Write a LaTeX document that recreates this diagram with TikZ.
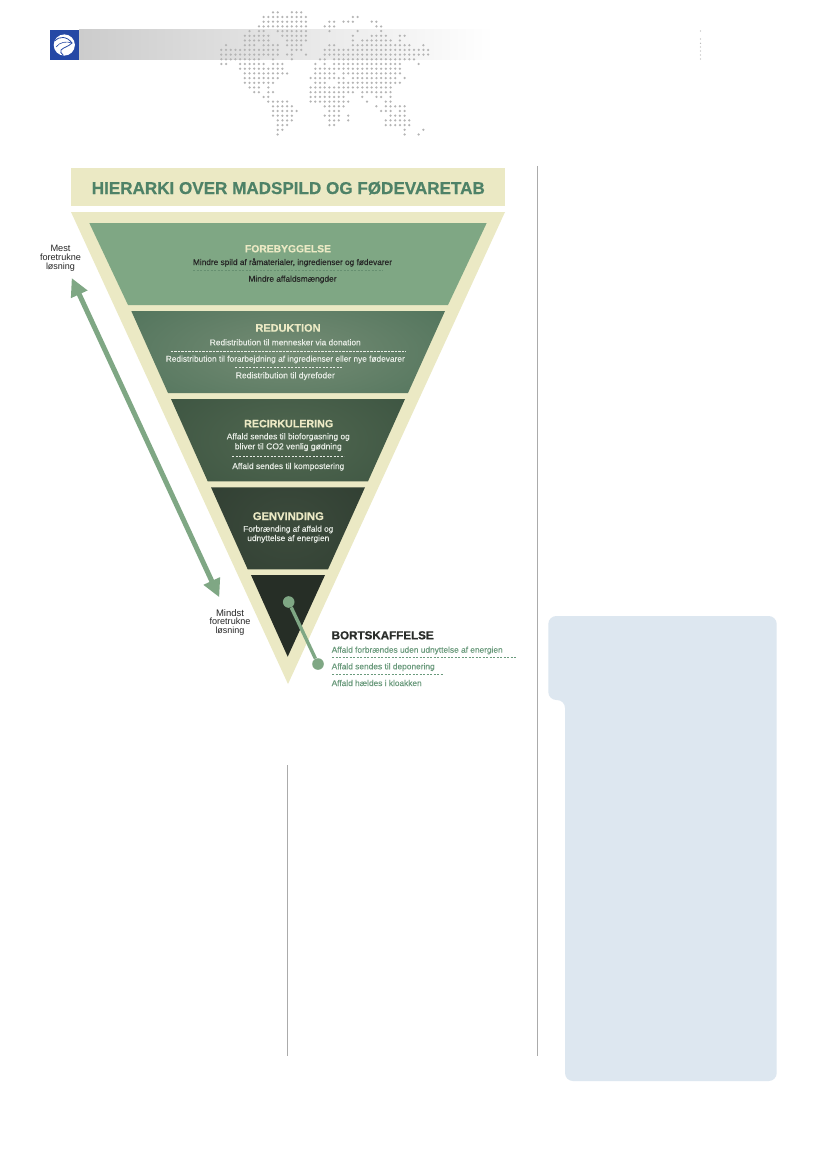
\documentclass[tikz,border=0pt]{standalone}
\usepackage{fontspec}
\usepackage{graphicx}
\setmainfont{Liberation Sans}
\newfontfamily\bodyfont[FakeBold=0.3]{Liberation Sans}
\newfontfamily\headfont[FakeBold=0.6]{Liberation Sans Bold}
\usetikzlibrary{arrows.meta}
\definecolor{cream}{HTML}{EBE9C4}
\definecolor{sage}{HTML}{7FA784}
\definecolor{titlegreen}{HTML}{4E8267}
\definecolor{bortgreen}{HTML}{6A9A7C}
\definecolor{darkhead}{HTML}{2A2D2A}
\definecolor{lighttext}{HTML}{E8EDE6}
\definecolor{mapgrey}{HTML}{B4B4B4}
\definecolor{ruleg}{HTML}{ABABAB}
\definecolor{logoblue}{HTML}{2548A5}
\definecolor{panel}{HTML}{DDE7F0}
\definecolor{dashone}{HTML}{668F70}
\newcommand{\fitw}[2]{\resizebox{#1pt}{!}{#2}}
\tikzset{
  head/.style={inner sep=0pt,anchor=base,font=\fontsize{11}{12}\selectfont\headfont,text=cream},
  body/.style={inner sep=0pt,anchor=base,font=\fontsize{8}{9}\selectfont\bodyfont,text=lighttext},
  bodydark/.style={body,text=black!85},
  bort/.style={inner sep=0pt,anchor=base west,font=\fontsize{8}{9}\selectfont\bodyfont,text=bortgreen},
  side/.style={inner sep=0pt,anchor=base,font=\fontsize{8.6}{9}\selectfont,text=black!85},
  dashline/.style={line width=0.6pt,dash pattern=on 2.3pt off 1.2pt},
  knob/.style={circle,fill=sage,inner sep=0pt,minimum size=11.6pt},
}
\begin{document}
\begin{tikzpicture}[x=1pt,y=-1pt]
\useasboundingbox (0,0) rectangle (827,1169);
\fill[white] (0,0) rectangle (827,1169);
% header
\shade[left color=black!20,right color=white,shading angle=90,shading=axis] (79,30) rectangle (494,60);
\fill[logoblue] (50,30.3) rectangle (79,59.6);
\fill[white] (64.3,45) circle (10.6pt);
\draw[logoblue,line width=0.8pt] (54.5,41) .. controls (59,36) and (67,36) .. (72,43) .. controls (68,47) and (64,47) .. (61,50) .. controls (60,52) and (61,53) .. (63,55);
\draw[logoblue,line width=0.6pt] (72,43) .. controls (66,41) and (60,42) .. (56,47);
% map dots: row / {first/last column runs}
\foreach \r/\cs in {
0/{11/12,15/17},
1/{9/18,28/29},
2/{9/18,23/24,26/28,32/33},
3/{8/18,22/24,33/34},
4/{6/6,8/9,12/18,23/23,29/29,34/34},
5/{5/10,13/18,28/28,32/35,38/39},
6/{5/10,14/18,28/28,30/36,38/38},
7/{1/1,5/7,9/12,14/17,23/24,28/40,43/43},
8/{0/12,15/17,22/44},
9/{0/12,14/15,18/18,22/44},
10/{0/8,11/11,15/15,21/22,24/41},
11/{0/1,4/9,11/13,20/20,22/22,24/38,42/42},
12/{4/13,20/38},
13/{5/14,20/24,26/38},
14/{5/12,19/26,28/37,39/39},
15/{5/11,20/22,25/38},
16/{6/8,10/10,19/36},
17/{7/8,10/11,19/28,30/36},
18/{9/10,19/26,30/30,33/34,36/36},
19/{10/14,19/27,31/31,35/36},
20/{11/15,22/26,33/33,35/39},
21/{11/16,23/25,34/36,38/39},
22/{11/15,22/25,27/27,36/39},
23/{12/15,23/25,27/27,35/40},
24/{12/14,23/24,35/40},
25/{12/13,39/39,43/43},
26/{12/12,39/39,42/42}}{
  \foreach \ca/\cb in \cs {
    \foreach \c in {\ca,...,\cb} { \fill[mapgrey] (221.3+4.7*\c,12.3+4.7*\r) circle (1.25pt); }
  }
}
\foreach \yy in {31,39,43.3,47,51,55,59} { \fill[mapgrey] (700.5,\yy) circle (0.7pt); }
% rules
\draw[ruleg,line width=0.7pt] (537,166) -- (537,1056);
\draw[ruleg,line width=0.7pt] (287.7,765) -- (287.7,1056);
% panel
\fill[panel,rounded corners=8pt] (548.3,616) -- (776.7,616) -- (776.7,1081) -- (565,1081) -- (565,700) -- (548.3,700) -- cycle;
% title
\fill[cream] (71,168) rectangle (505,206);
\node[inner sep=0pt,anchor=base,font=\fontsize{16.6}{18}\selectfont\headfont,text=titlegreen] (title) at (288.3,194) {\fitw{393}{HIERARKI OVER MADSPILD OG FØDEVARETAB}};
% pyramid
\fill[cream] (71,212) -- (505,212) -- (288,684) -- cycle;
\fill[sage] (89.3,223) -- (486.7,223) -- (448,305) -- (128,305) -- cycle;
\begin{scope}
\clip (131.3,311) -- (445,311) -- (408,393) -- (168,393) -- cycle;
\shade[inner color={rgb,255:red,116;green,140;blue,116},outer color={rgb,255:red,62;green,102;blue,78}] (-30,230) rectangle (606,474);
\end{scope}
\begin{scope}
\clip (171,399) -- (405,399) -- (368,481.3) -- (207.7,481.3) -- cycle;
\shade[inner color={rgb,255:red,80;green,103;blue,80},outer color={rgb,255:red,51;green,75;blue,58}] (54,317) rectangle (522,563);
\end{scope}
\begin{scope}
\clip (211,487.3) -- (365,487.3) -- (328,569.3) -- (247.7,569.3) -- cycle;
\shade[inner color={rgb,255:red,60;green,75;blue,60},outer color={rgb,255:red,43;green,57;blue,46}] (134,405) rectangle (442,651);
\end{scope}
\fill[fill={rgb,255:red,38;green,46;blue,38}] (251,575) -- (325,575) -- (287.7,656.7) -- cycle;
% level 1
\node[head] (h1) at (288,252.3) {\fitw{86}{FOREBYGGELSE}};
\node[bodydark] (t11) at (292.5,265) {\fitw{199}{Mindre spild af råmaterialer, ingredienser og fødevarer}};
\coordinate (d1a) at (193,270.5); \coordinate (d1b) at (383,270.5);
\draw[dashline,dashone] (d1a) -- (d1b);
\node[bodydark] (t12) at (292.5,281.7) {\fitw{88}{Mindre affaldsmængder}};
% level 2
\node[head] (h2) at (288,331.7) {\fitw{65}{REDUKTION}};
\node[body] (t21) at (285.3,345.3) {\fitw{151}{Redistribution til mennesker via donation}};
\coordinate (d2a) at (170.7,351); \coordinate (d2b) at (406,351);
\draw[dashline,lighttext] (d2a) -- (d2b);
\node[body] (t22) at (285.3,361.7) {\fitw{239}{Redistribution til forarbejdning af ingredienser eller nye fødevarer}};
\coordinate (d3a) at (235,367.7); \coordinate (d3b) at (342,367.7);
\draw[dashline,lighttext] (d3a) -- (d3b);
\node[body] (t23) at (285.3,378.3) {\fitw{99}{Redistribution til dyrefoder}};
% level 3
\node[head] (h3) at (288.7,427.3) {\fitw{89}{RECIRKULERING}};
\node[body] (t31) at (288.3,439.3) {\fitw{123}{Affald sendes til bioforgasning og}};
\node[body] (t32) at (288.3,449.3) {\fitw{107}{bliver til CO2 venlig gødning}};
\coordinate (d4a) at (232,456); \coordinate (d4b) at (344,456);
\draw[dashline,lighttext] (d4a) -- (d4b);
\node[body] (t33) at (288.3,469) {\fitw{112}{Affald sendes til kompostering}};
% level 4
\node[head] (h4) at (288.3,520) {\fitw{71}{GENVINDING}};
\node[body] (t41) at (288.3,531.7) {\fitw{90}{Forbrænding af affald og}};
\node[body] (t42) at (288.3,541) {\fitw{82}{udnyttelse af energien}};
% level 5
\node[knob] (k1) at (288.7,602) {};
\node[knob] (k2) at (318,664) {};
\draw[sage,line width=3.4pt] (k1) -- (k2);
\node[inner sep=0pt,anchor=base west,font=\fontsize{11.4}{12}\selectfont\headfont,text=darkhead] (h5) at (331.5,639.3) {\fitw{102}{BORTSKAFFELSE}};
\node[bort] (t51) at (331.5,652.7) {\fitw{171}{Affald forbrændes uden udnyttelse af energien}};
\coordinate (d5a) at (332,657.5); \coordinate (d5b) at (516,657.5);
\draw[dashline,bortgreen] (d5a) -- (d5b);
\node[bort] (t52) at (331.5,669.3) {\fitw{103}{Affald sendes til deponering}};
\coordinate (d6a) at (332,674.5); \coordinate (d6b) at (443,674.5);
\draw[dashline,bortgreen] (d6a) -- (d6b);
\node[bort] (t53) at (331.5,686) {\fitw{90}{Affald hældes i kloakken}};
% side arrow
\coordinate (atop) at (71.7,278); \coordinate (abot) at (219.3,597.3);
\draw[sage,line width=5pt,{Triangle[length=18pt,width=17pt]}-{Triangle[length=18pt,width=17pt]}] (atop) -- (abot);
\node[side] (m1) at (60.5,251.7) {\fitw{20}{Mest}};
\node[side] (m2) at (60.5,260.7) {\fitw{41}{foretrukne}};
\node[side] (m3) at (60.5,269.3) {\fitw{29}{løsning}};
\node[side] (n1) at (230,616) {\fitw{28}{Mindst}};
\node[side] (n2) at (230,624.7) {\fitw{41}{foretrukne}};
\node[side] (n3) at (230,633) {\fitw{29}{løsning}};
\end{tikzpicture}
\end{document}
